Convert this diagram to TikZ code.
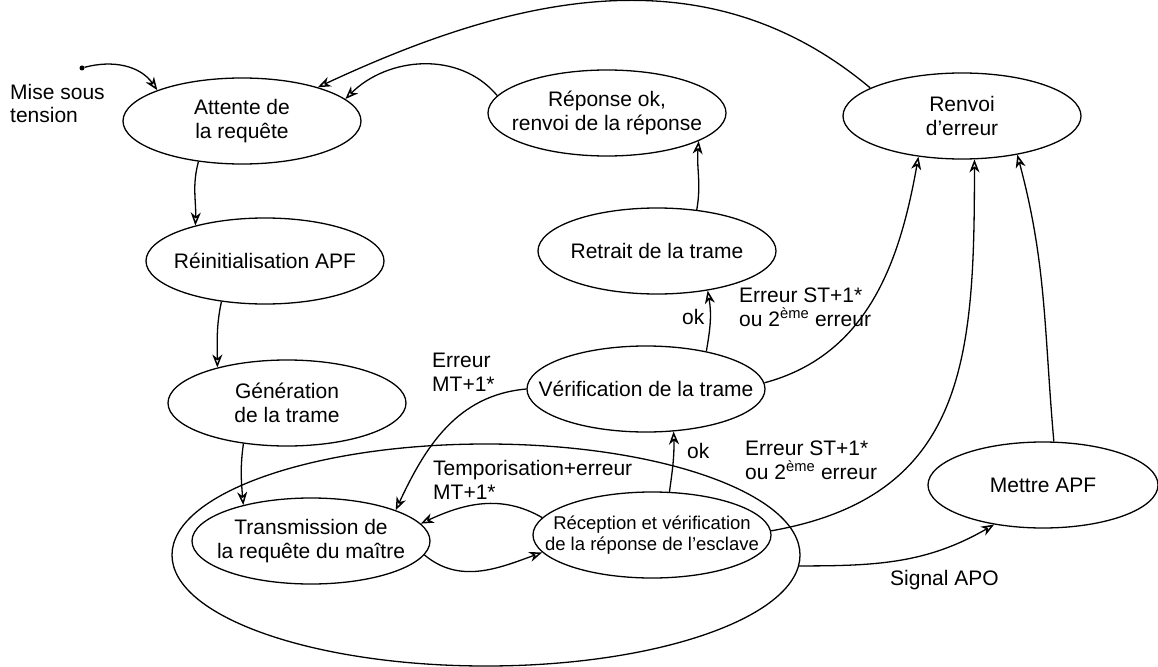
\documentclass[tikz,border=0pt]{standalone}
\usepackage{fontspec}
\setmainfont{Liberation Sans}
\usetikzlibrary{shapes.geometric,arrows.meta}
\begin{document}
\begin{tikzpicture}[x=1pt,y=1pt,
  st/.style={ellipse, draw, line width=1.3pt, minimum width=238pt, minimum height=86pt, inner sep=0pt},
  lbl/.style={align=center, font=\fontsize{21}{24}\selectfont, inner sep=0pt},
  slbl/.style={align=center, font=\fontsize{18.5}{20.5}\selectfont, inner sep=0pt},
  txt/.style={align=left, font=\fontsize{21}{24}\selectfont, inner sep=0pt, anchor=base west},
  arr/.style={line width=1.3pt, -{Stealth[open, fill=white, length=13pt, width=10pt, inset=4pt, line width=1.5pt]}}]
\useasboundingbox (0,0) rectangle (1158,-666);
% states
\node[st, label={[lbl]center:{Attente de\\la requête}}] (A) at (242,-121) {};
\node[st, label={[lbl]center:{Réinitialisation APF}}] (B) at (265,-261) {};
\node[st, label={[lbl]center:{Génération\\de la trame}}] (C) at (287,-403) {};
\node[st, label={[lbl]center:{Transmission de\\la requête du maître}}] (D) at (311,-541) {};
\node[st, label={[slbl]center:{Réception et vérification\\de la réponse de l’esclave}}] (E) at (652,-535) {};
\node[st, label={[lbl]center:{Vérification de la trame}}] (F) at (646,-389) {};
\node[st, label={[lbl]center:{Retrait de la trame}}] (G) at (657,-251) {};
\node[st, label={[lbl]center:{Réponse ok,\\renvoi de la réponse}}] (H) at (607,-113) {};
\node[st, label={[lbl]center:{Renvoi\\d’erreur}}] (I) at (962,-116) {};
\node[st, minimum width=230pt, label={[lbl]center:{Mettre APF}}] (J) at (1043,-485) {};
\node[st, minimum width=628pt, minimum height=222pt] (K) at (486,-555) {};
\node[circle, fill, inner sep=0pt, minimum size=5pt] (dot) at (82,-68) {};
% free labels (base = last line)
\node[txt] (l1) at (10,-123) {Mise sous\\tension};
\node[txt] (l2) at (432,-391) {Erreur\\MT+1*};
\node[txt] (l3) at (687,-458) {ok};
\node[txt] (l4) at (682,-324) {ok};
\node[txt] (l5) at (739,-326) {Erreur ST+1*\\ou 2\textsuperscript{ème} erreur};
\node[txt] (l6) at (745,-479) {Erreur ST+1*\\ou 2\textsuperscript{ème} erreur};
\node[txt] (l7) at (433,-499) {Temporisation+erreur\\MT+1*};
\node[txt] (l8) at (890,-585) {Signal APO};
% connectors
\draw[arr] (dot) to[out=15,in=125] (A.160);
\draw[arr] (A.-137.7) to[out=255,in=88] (B.153.7);
\draw[arr] (B.-137.6) to[out=258,in=90] (C.153.4);
\draw[arr] (C.-137.5) to[out=262,in=95] (D.152);
\draw[arr] (D.-7) to[out=-40,in=-160] (E.-171.4);
\draw[arr] (E.171) to[out=150,in=25] (D.9);
\draw[arr] (E.68) to[out=82,in=-88] (F.-57.5);
\draw[arr] (F.32) to[out=80,in=-80] (G.-38);
\draw[arr] (G.46) to[out=80,in=-95] (H.-17);
\draw[arr] (H.171) to[out=130,in=45] (A.12);
\draw[arr] (I.163) to[out=140,in=25] (A.24);
\draw[arr] (F.180) to[out=185,in=65] (D.20.6);
\draw[arr] (F.3) to[out=15,in=-100] (I.-137);
\draw[arr] (E.2) to[out=10,in=-90,looseness=1.2] (I.-74.4);
\draw[arr] (K.-2) to[out=0,in=-150] (J.-141.7);
\draw[arr] (J.76) to[out=95,in=-75] (I.-35);
\end{tikzpicture}
\end{document}
